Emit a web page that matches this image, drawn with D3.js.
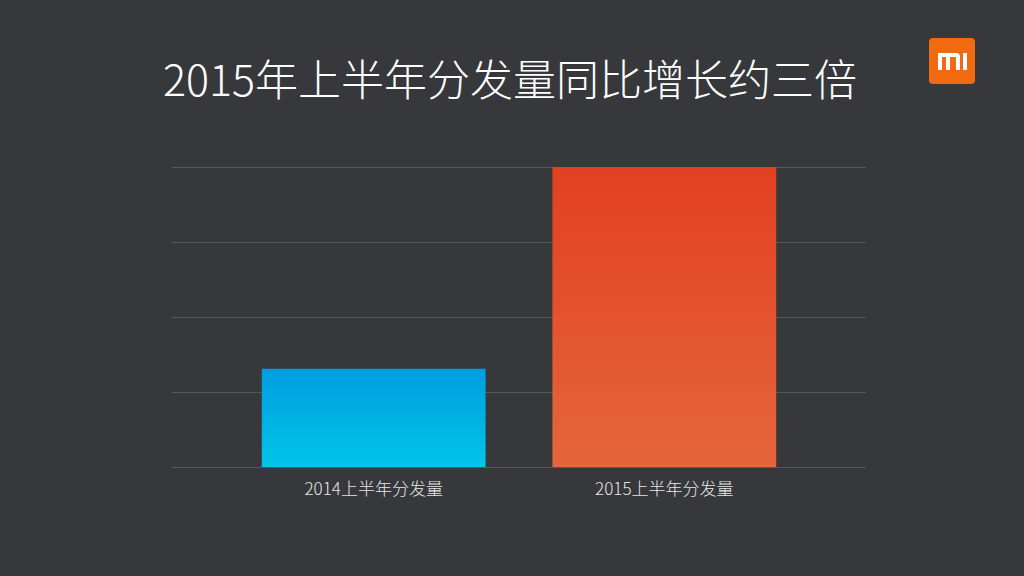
<!DOCTYPE html>
<html><head><meta charset="utf-8">
<script src="https://cdn.jsdelivr.net/npm/d3@7"></script>
<style>html,body{margin:0;padding:0;background:#36383c;}svg{display:block;}</style>
</head><body><svg id="c" width="1024" height="576"></svg>
<script>
const categories = ["2014上半年分发量", "2015上半年分发量"];
const values = [1.31, 4];
const yTicks = [0, 1, 2, 3, 4];
const title = "2015年上半年分发量同比增长约三倍";

const svg = d3.select("#c");
svg.append("rect").attr("width",1024).attr("height",576).attr("fill","#36383c");
const defs = svg.append("defs");
const g1 = defs.append("linearGradient").attr("id","gb").attr("x1",0).attr("y1",0).attr("x2",0).attr("y2",1);
g1.append("stop").attr("offset","0%").attr("stop-color","#009ddf");
g1.append("stop").attr("offset","100%").attr("stop-color","#00c5e8");
const g2 = defs.append("linearGradient").attr("id","go").attr("x1",0).attr("y1",0).attr("x2",0).attr("y2",1);
g2.append("stop").attr("offset","0%").attr("stop-color","#e24020");
g2.append("stop").attr("offset","100%").attr("stop-color","#e5663b");

svg.append("text").attr("x",510).attr("y",96).attr("text-anchor","middle")
  .attr("font-family","'Noto Sans CJK SC', sans-serif").attr("font-weight",300)
  .attr("font-size",43).attr("fill","#ffffff").text(title);

// logo
const lg = svg.append("g").attr("transform","translate(929,38)");
lg.append("rect").attr("width",46).attr("height",46).attr("rx",4).attr("fill","#f26a10");
lg.append("path").attr("fill","#ffffff")
  .attr("d","M9,15 H27 Q31,15 31,19 V32 H27 V19 H21 V32 H17 V19 H13 V32 H9 Z M17,23 H21 V32 H17 Z M34,15 H38 V32 H34 Z");

const x = d3.scaleBand().domain(categories).range([172,866]).paddingInner(0.23).paddingOuter(0.309);
const y = d3.scaleLinear().domain([0,4]).range([467,167]);

svg.append("g").selectAll("line").data(yTicks).join("line")
  .attr("x1",172).attr("x2",866).attr("y1",d=>y(d)+0.5).attr("y2",d=>y(d)+0.5)
  .attr("stroke","#56585c").attr("stroke-width",1);

svg.append("g").selectAll("rect").data(values).join("rect")
  .attr("x",(d,i)=>x(categories[i])).attr("width",x.bandwidth())
  .attr("y",d=>y(d)).attr("height",d=>y(0)-y(d))
  .attr("fill",(d,i)=>i===0?"url(#gb)":"url(#go)");

const ax = svg.append("g").attr("transform","translate(0,467)").call(d3.axisBottom(x).tickSize(0).tickPadding(16));
ax.select(".domain").remove();
ax.selectAll("text").attr("font-family","'Noto Sans CJK SC', sans-serif").attr("font-weight",300).attr("font-size",17).attr("fill","#e6e6e6");
</script></body></html>
